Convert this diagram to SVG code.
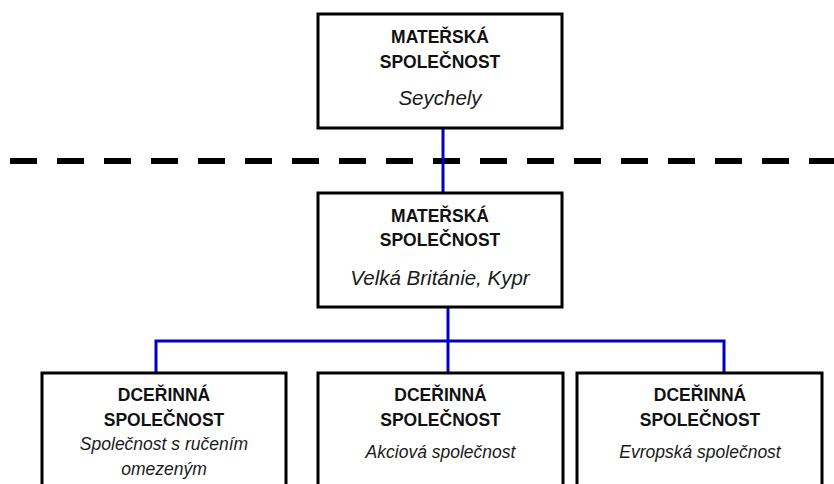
<svg xmlns="http://www.w3.org/2000/svg" width="834" height="484" viewBox="0 0 834 484">
<style>
.box{fill:#fff;stroke:#000;stroke-width:3}
.b{font-family:"Liberation Sans",Arial,sans-serif;font-weight:bold;font-size:17.5px;fill:#111;text-anchor:middle}
.i{font-family:"Liberation Sans",Arial,sans-serif;font-style:italic;fill:#1a1a1a;text-anchor:middle}
.c{fill:none;stroke:#0000c8;stroke-width:3}
</style>
<rect width="834" height="484" fill="#fff"/>
<line x1="10" y1="161" x2="834" y2="161" stroke="#000" stroke-width="6" stroke-dasharray="27 20"/>
<g id="connectors">
<line class="c" x1="443" y1="128" x2="443" y2="193"/>
<line class="c" x1="448" y1="307" x2="448" y2="373"/>
<polyline class="c" points="156,373 156,341 724,341 724,373"/>
</g>
<g id="parent-seychely">
<rect class="box" x="318" y="14" width="244" height="114"/>
<text class="b" x="440" y="43">MATEŘSKÁ</text>
<text class="b" x="440" y="68">SPOLEČNOST</text>
<text class="i" x="440" y="105" font-size="20.5">Seychely</text>
</g>
<g id="parent-uk">
<rect class="box" x="318" y="193" width="244" height="114"/>
<text class="b" x="440" y="222">MATEŘSKÁ</text>
<text class="b" x="440" y="246">SPOLEČNOST</text>
<text class="i" x="440" y="285" font-size="20.5">Velká Británie, Kypr</text>
</g>
<g id="sub-sro">
<rect class="box" x="42" y="373" width="244" height="130"/>
<text class="b" x="164" y="401">DCEŘINNÁ</text>
<text class="b" x="164" y="426">SPOLEČNOST</text>
<text class="i" x="164" y="450" font-size="17.5">Společnost s ručením</text>
<text class="i" x="164" y="475" font-size="17.5">omezeným</text>
</g>
<g id="sub-as">
<rect class="box" x="318" y="373" width="245" height="130"/>
<text class="b" x="440.5" y="401">DCEŘINNÁ</text>
<text class="b" x="440.5" y="426">SPOLEČNOST</text>
<text class="i" x="440.5" y="458" font-size="17.5">Akciová společnost</text>
</g>
<g id="sub-se">
<rect class="box" x="577" y="373" width="245" height="130"/>
<text class="b" x="700" y="401">DCEŘINNÁ</text>
<text class="b" x="700" y="426">SPOLEČNOST</text>
<text class="i" x="700" y="458" font-size="17.5">Evropská společnost</text>
</g>
</svg>
